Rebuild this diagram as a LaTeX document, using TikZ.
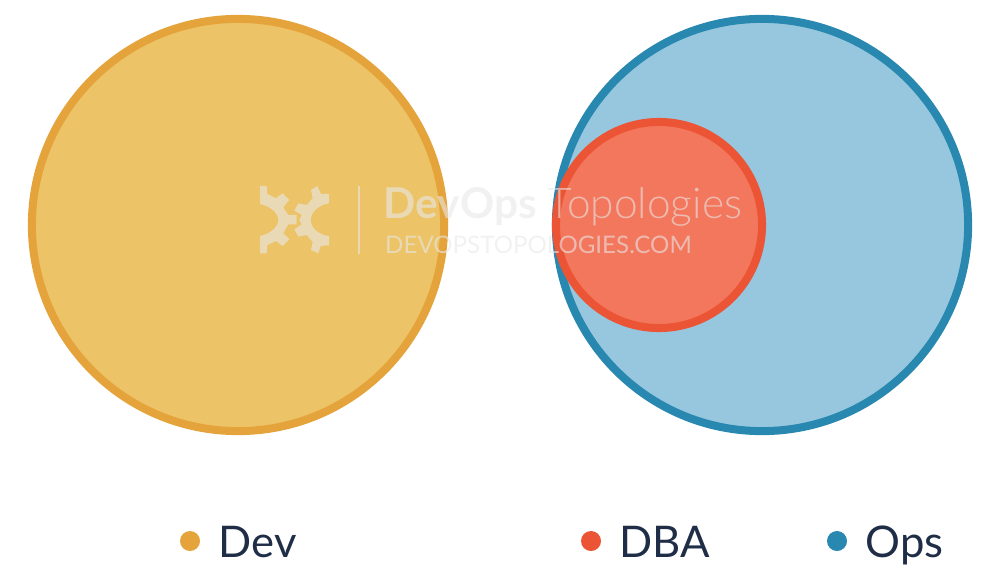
\documentclass[tikz,border=0pt]{standalone}
\usepackage{fontspec}
\setmainfont{Lato}
\newfontfamily\lightfont{Lato Light}
\usepackage{xcolor}
\definecolor{devline}{HTML}{E5A33B}
\definecolor{devfill}{HTML}{ECC366}
\definecolor{opsline}{HTML}{2888B0}
\definecolor{opsfill}{HTML}{97C7DF}
\definecolor{dbaline}{HTML}{EB5434}
\definecolor{dbafill}{HTML}{F3775C}
\definecolor{inktext}{HTML}{1F2D47}
\definecolor{markgray}{HTML}{E8E8E8}
\tikzset{
  team/.style={circle,draw,line width=0.08cm,inner sep=0pt,minimum size=4.12cm},
  dot/.style={circle,inner sep=0pt,minimum size=0.2cm},
  legend/.style={anchor=base west,inner sep=0pt,text=inktext,font=\fontsize{12.4}{14}\selectfont},
  watermark/.style={text opacity=0.6,inner sep=0pt,anchor=base west,text=markgray}
}
\begin{document}
\begin{tikzpicture}[x=0.01cm,y=-0.01cm]
\useasboundingbox (0,0) rectangle (1000,579);
  \node[team,draw=devline,fill=devfill] (Dev) at (238,225) {};
  \node[team,draw=opsline,fill=opsfill] (Ops) at (762,225) {};
  \node[team,draw=dbaline,fill=dbafill,minimum size=2.06cm] (DBA) at (659,225) {};

  % watermark
  \fill[markgray,opacity=0.6] (260,186) -- (266.7,186) -- (267.3,194) -- (276,198.3) -- (282.7,193.3) -- (289.3,200) -- (283.3,207.3) -- (288.3,215) -- (296.7,215) -- (296.7,224.3) -- (288.3,224.3) -- (283.3,233.3) -- (289.3,239.3) -- (282.7,246) -- (276,241) -- (267.3,245) -- (266.7,253.3) -- (260,253.3) -- (260,236) .. controls (270,234) and (278.3,227) .. (278.3,220) .. controls (278.3,213) and (270,206) .. (260,204) -- cycle;
  \fill[markgray,opacity=0.6] (329,194) -- (329,203.3) .. controls (318,205) and (310.7,213) .. (310.7,220) .. controls (310.7,227) and (318,235) .. (329,236) -- (329,245.3) -- (320.7,246) -- (318.3,253.3) -- (311,250) -- (312.7,242) -- (306.7,235) -- (298.3,236.7) -- (294.3,229.3) -- (301.7,224.3) -- (299.3,220) -- (301.7,215) -- (294.3,210.7) -- (298.3,203.3) -- (306.7,205) -- (312.7,198.3) -- (311,190) -- (317.3,186) -- (321,194) -- cycle;
  \draw[markgray,opacity=0.6,line width=0.02cm] (358.5,186) -- (358.5,254);
  \node[watermark,font=\fontsize{12.07}{14}\selectfont] (Title) at (383,218.5) {\textbf{DevOps} {\lightfont Topologies}};
  \node[watermark,font=\fontsize{6.86}{8}\selectfont] (Site) at (384.5,253) {DEVOPSTOPOLOGIES.COM};

  \node[dot,fill=devline] (DevDot) at (190,541) {};
  \node[legend] (DevText) at (218,557) {Dev};
  \node[dot,fill=dbaline] (DBADot) at (591,541) {};
  \node[legend] (DBAText) at (618.5,557) {DBA};
  \node[dot,fill=opsline] (OpsDot) at (837,541) {};
  \node[legend] (OpsText) at (865,557) {Ops};
\end{tikzpicture}
\end{document}
